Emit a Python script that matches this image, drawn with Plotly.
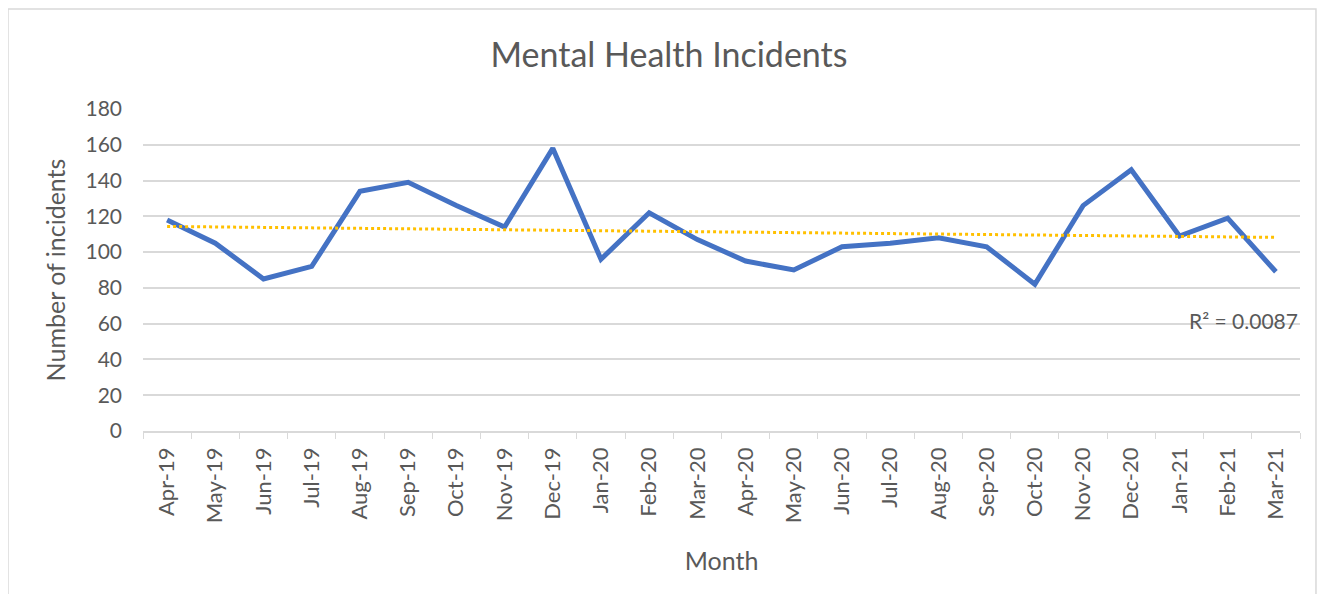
# plot.py
# Mental Health Incidents - monthly line with linear trendline
import numpy as np
import plotly.graph_objects as go

months = ["Apr-19", "May-19", "Jun-19", "Jul-19", "Aug-19", "Sep-19", "Oct-19",
          "Nov-19", "Dec-19", "Jan-20", "Feb-20", "Mar-20", "Apr-20", "May-20",
          "Jun-20", "Jul-20", "Aug-20", "Sep-20", "Oct-20", "Nov-20", "Dec-20",
          "Jan-21", "Feb-21", "Mar-21"]
incidents = [118, 105, 85, 92, 134, 139, 126, 114, 158, 96, 122, 107,
             95, 90, 103, 105, 108, 103, 82, 126, 146, 109, 119, 89]
y_ticks = [0, 20, 40, 60, 80, 100, 120, 140, 160, 180]
r2_label = "R² = 0.0087"

C_LINE  = "#4472C4"
C_TREND = "#FFC000"
C_GRID  = "#D9D9D9"
C_TEXT  = "#595959"
FONT    = "Lato, 'Open Sans', sans-serif"

# linear trendline (least squares, like Excel)
idx = np.arange(len(incidents))
slope, icpt = np.polyfit(idx, incidents, 1)
trend = slope * idx + icpt

fig = go.Figure()

fig.add_trace(go.Scatter(
    x=months, y=incidents,
    mode="lines",
    line=dict(color=C_LINE, width=5),
    name="Incidents",
))

fig.add_trace(go.Scatter(
    x=months, y=trend,
    mode="lines",
    line=dict(color=C_TREND, width=3, dash="dot"),
    name="Linear trend",
))

fig.add_annotation(
    x=23.5, y=62, xref="x", yref="y",
    text=r2_label, showarrow=False,
    xanchor="right", yanchor="middle",
    font=dict(size=21, color=C_TEXT, family=FONT),
)

# chart border
fig.add_shape(
    type="rect", xref="paper", yref="paper",
    x0=-0.1167, x1=1.0138, y0=-0.7, y1=1.3106,
    line=dict(color=C_GRID, width=1.5),
    fillcolor="rgba(0,0,0,0)", layer="below",
)

# page body has an 8px margin, so the figure is 8px smaller than the window
fig.update_layout(
    title=dict(
        text="Mental Health Incidents",
        font=dict(size=34, color=C_TEXT, family=FONT),
        x=0.5, xanchor="center",
        y=1 - 47 / 586, yanchor="middle",
    ),
    showlegend=False,
    plot_bgcolor="white",
    paper_bgcolor="white",
    width=1322, height=586,
    margin=dict(l=135, r=30, t=101, b=163),
    font=dict(family=FONT, color=C_TEXT),
    xaxis=dict(
        type="category",
        range=[-0.5, len(months) - 0.5],
        tickson="boundaries",
        ticks="outside", ticklen=6, tickcolor=C_GRID,
        tickangle=-90,
        tickfont=dict(size=22, color=C_TEXT),
        ticklabelstandoff=6,
        showgrid=False,
        showline=True, linecolor=C_GRID, linewidth=1.5,
        title=dict(text="Month", font=dict(size=25, color=C_TEXT), standoff=30),
    ),
    yaxis=dict(
        range=[0, 180],
        tickvals=y_ticks,
        tickfont=dict(size=21, color=C_TEXT),
        showgrid=True, gridcolor=C_GRID, gridwidth=1.5,
        zeroline=False,
        ticks="", ticklabelstandoff=20,
        title=dict(text="Number of incidents", font=dict(size=25, color=C_TEXT), standoff=12),
    ),
)

fig.write_html("out.html")
